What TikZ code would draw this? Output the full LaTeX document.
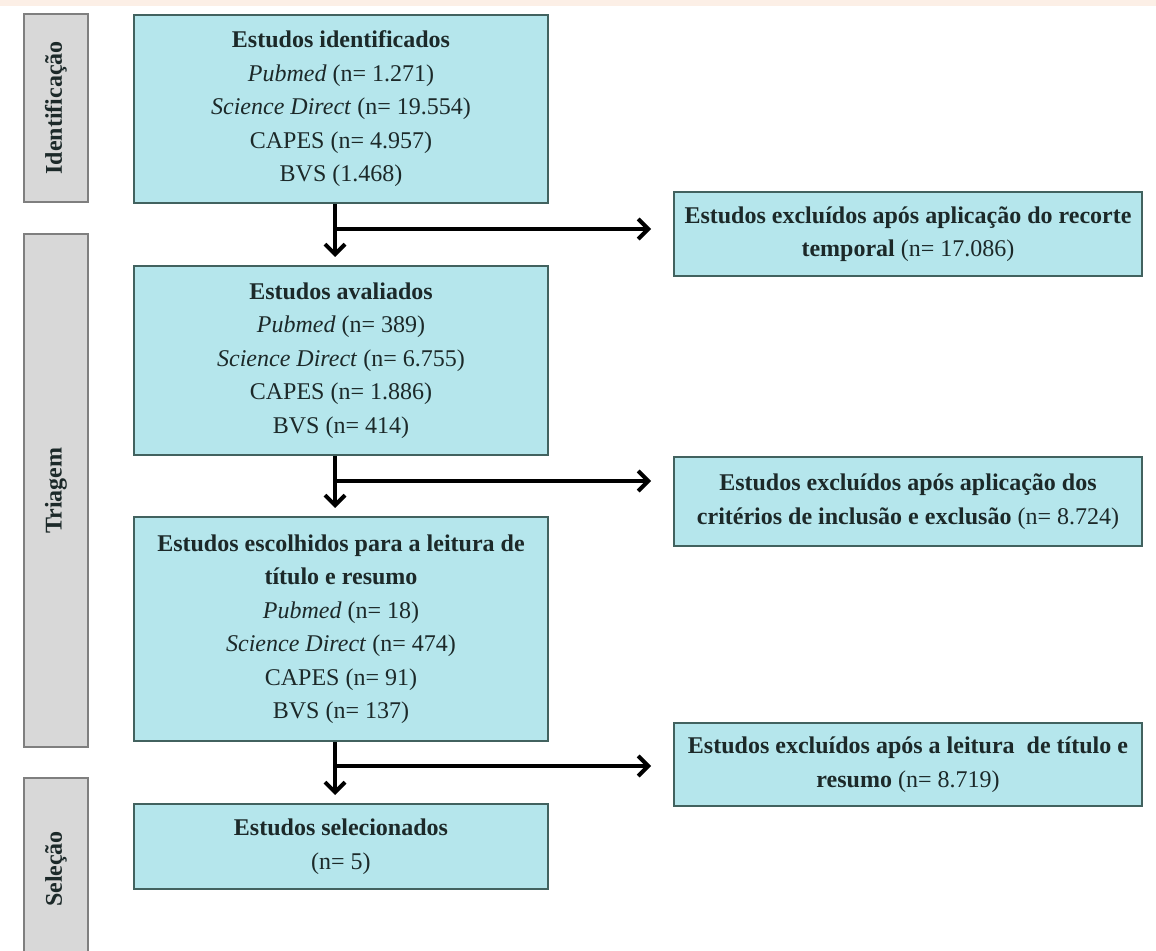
\documentclass[tikz,border=0pt]{standalone}
\usepackage{fontspec}
\setmainfont{Liberation Serif}
\usepackage{tikz}
\usetikzlibrary{positioning}
\usetikzlibrary{calc,arrows.meta}
\definecolor{boxfill}{HTML}{B5E6EC}
\definecolor{boxline}{HTML}{42625F}
\definecolor{phasefill}{HTML}{D8D8D8}
\definecolor{phaseline}{HTML}{7F7F7F}
\definecolor{txtcol}{HTML}{1C2929}
\definecolor{topband}{HTML}{FCEFE6}
\tikzset{
  stage/.style={draw=boxline, fill=boxfill, line width=1pt, align=center,
    text=txtcol, minimum width=207pt, inner sep=0pt,
    font=\fontsize{12}{16.75}\selectfont},
  excl/.style={stage, minimum width=234pt},
  phase/.style={draw=phaseline, fill=phasefill, line width=1pt, rotate=90,
    minimum height=32pt, inner sep=0pt, text=txtcol,
    font=\fontsize{12}{14}\selectfont\bfseries},
  flow/.style={line width=2pt, -{Straight Barb[length=5pt,width=10pt]}}
}

\begin{document}
\begin{tikzpicture}[x=0.5pt, y=-0.5pt]

        \useasboundingbox (0,0) rectangle (1156,951);
        \fill[topband] (0,0) rectangle (1156,6);

        % Phases
        \node[phase, minimum width=94pt] (pident) at (56,108) {Identificação};
        \node[phase, minimum width=256.5pt] (ptriag) at (56,490.5) {Triagem};
        \node[phase, minimum width=91pt] (psel) at (56,869) {Seleção};

        % Main boxes
        \node[stage, minimum height=94pt] (ident) at (341,109)
          {\textbf{Estudos identificados}\\ \textit{Pubmed} (n= 1.271)\\
           \textit{Science Direct} (n= 19.554)\\ CAPES (n= 4.957)\\ BVS (1.468)};
        \node[stage, minimum height=94.5pt] (aval) at (341,360.5)
          {\textbf{Estudos avaliados}\\ \textit{Pubmed} (n= 389)\\
           \textit{Science Direct} (n= 6.755)\\ CAPES (n= 1.886)\\ BVS (n= 414)};
        \node[stage, minimum height=112pt] (escol) at (341,629)
          {\textbf{Estudos escolhidos para a leitura de}\\ \textbf{título e resumo}\\
           \textit{Pubmed} (n= 18)\\ \textit{Science Direct} (n= 474)\\
           CAPES (n= 91)\\ BVS (n= 137)};
        \node[stage, minimum height=42.5pt] (selec) at (341,846.5)
          {\textbf{Estudos selecionados}\\ (n= 5)};

        % Excluded
        \node[excl, minimum height=42pt] (excl1) at (908,234)
          {\textbf{Estudos excluídos após aplicação do recorte}\\
           \textbf{temporal} (n= 17.086)};
        \node[excl, minimum height=44.5pt] (excl2) at (908,501.5)
          {\textbf{Estudos excluídos após aplicação dos}\\
           \textbf{critérios de inclusão e exclusão} (n= 8.724)};
        \node[excl, minimum height=41.5pt] (excl3) at (908,764.5)
          {\textbf{Estudos excluídos após a leitura\ \ de título e}\\
           \textbf{resumo} (n= 8.719)};

        % Junctions
        \coordinate (j1) at (335,229);
        \coordinate (j2) at (335,481);
        \coordinate (j3) at (335,766);

        % Arrows
        \draw[flow, shorten >=4pt] ([xshift=-3pt]ident.south) -- ([xshift=-3pt]aval.north);
        \draw[flow, shorten >=4pt] ([xshift=-3pt]aval.south) -- ([xshift=-3pt]escol.north);
        \draw[flow, shorten >=4pt] ([xshift=-3pt]escol.south) -- ([xshift=-3pt]selec.north);
        \draw[flow, shorten >=11pt] (j1) -- (j1 -| excl1.west);
        \draw[flow, shorten >=11pt] (j2) -- (j2 -| excl2.west);
        \draw[flow, shorten >=11pt] (j3) -- (j3 -| excl3.west);

    \end{tikzpicture}
\end{document}
